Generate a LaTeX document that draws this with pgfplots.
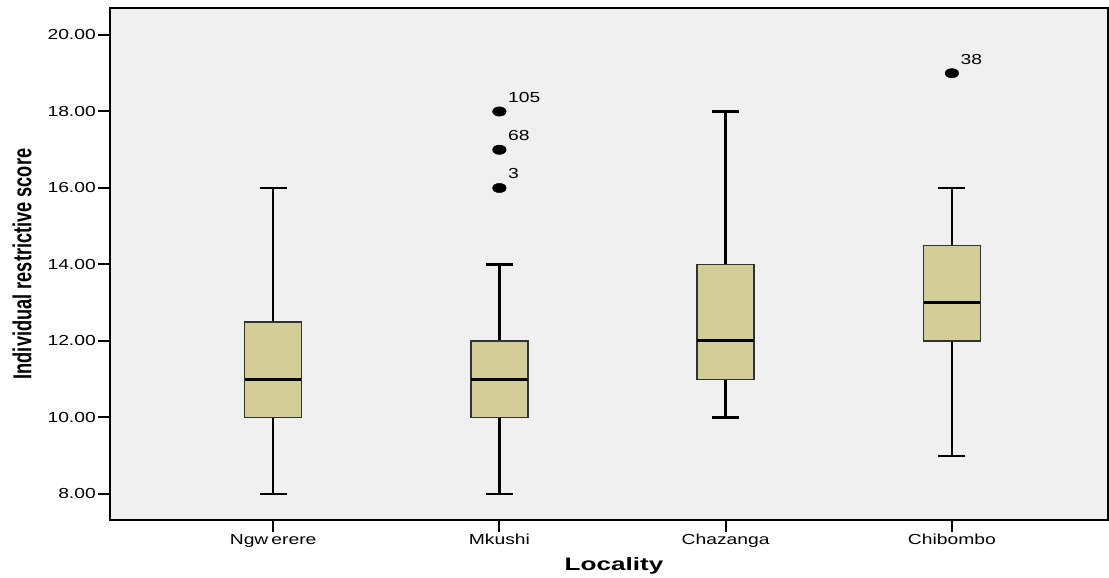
\documentclass[border=0pt]{standalone}
\usepackage{fontspec}
\setmainfont{Liberation Sans}
\newfontfamily\tickfont[FakeStretch=1.33]{Liberation Sans}
\newfontfamily\ylabfont[FakeStretch=0.7]{Liberation Sans}
\newfontfamily\xlabfont[FakeStretch=1.45]{Liberation Sans}
\usepackage{pgfplots}
\usepackage{pgfplotstable}
\pgfplotsset{compat=1.18}
\definecolor{boxfill}{RGB}{211,206,152}
\definecolor{bg}{RGB}{240,240,240}
\definecolor{boxedge}{RGB}{50,50,50}
% x = position, q1, median, q3, lower whisker, upper whisker
\pgfplotstableread{
x q1 med q3 lw uw
1 10 11 12.5 8 16
2 10 11 12 8 14
3 11 12 14 10 18
4 12 13 14.5 9 16
}\boxdata
\pgfplotstableread{
x y label
2 16 3
2 17 68
2 18 105
4 19 38
}\outliers
\begin{document}
\begin{tikzpicture}
\begin{axis}[
  at={(0,0)}, anchor=south west,
  scale only axis, width=998pt, height=512pt,
  xmin=0.279, xmax=4.69, ymin=7.32, ymax=20.706,
  axis background/.style={fill=bg},
  axis line style={line width=1.4pt},
  tick align=outside, xtick pos=bottom, ytick pos=left,
  major tick length=12pt,
  tick style={black, line width=2pt},
  xtick={1,2,3,4},
  xticklabels={Ngw\hspace{3pt}erere, Mkushi, Chazanga, Chibombo},
  ytick={8,10,12,14,16,18,20},
  yticklabel={\pgfmathprintnumber[fixed,fixed zerofill,precision=2,assume math mode=true]{\tick}},
  ticklabel style={font=\tickfont\fontsize{14.5}{16}\selectfont},
  xticklabel style={inner sep=2pt},
  yticklabel style={inner sep=2pt},
  ylabel={Individual restrictive score},
  ylabel style={font=\ylabfont\bfseries\fontsize{26}{30}\selectfont, at={(axis description cs:-0.088,0.5)}, anchor=center},
  xlabel={Locality},
  xlabel style={font=\xlabfont\bfseries\fontsize{18}{20}\selectfont, at={(axis description cs:0.505,-0.0898)}, anchor=center},
]
% lower whiskers
\addplot[draw=none, mark=none, forget plot,
  error bars/.cd, y dir=minus, y explicit, error mark=|,
  error bar style={black, line width=2.6pt},
  error mark options={black, line width=2.2pt, mark size=13.5pt}]
  table[x=x, y=q1, y error minus expr=\thisrow{q1}-\thisrow{lw}] {\boxdata};
% upper whiskers
\addplot[draw=none, mark=none, forget plot,
  error bars/.cd, y dir=plus, y explicit, error mark=|,
  error bar style={black, line width=2.6pt},
  error mark options={black, line width=2.2pt, mark size=13.5pt}]
  table[x=x, y=q3, y error plus expr=\thisrow{uw}-\thisrow{q3}] {\boxdata};
% boxes (Q1 to Q3)
\addplot[fill=boxfill, draw=boxedge, line width=1.3pt] coordinates {(0.874,10) (1.126,10) (1.126,12.5) (0.874,12.5)} -- cycle;
\addplot[fill=boxfill, draw=boxedge, line width=1.3pt] coordinates {(1.874,10) (2.126,10) (2.126,12) (1.874,12)} -- cycle;
\addplot[fill=boxfill, draw=boxedge, line width=1.3pt] coordinates {(2.874,11) (3.126,11) (3.126,14) (2.874,14)} -- cycle;
\addplot[fill=boxfill, draw=boxedge, line width=1.3pt] coordinates {(3.874,12) (4.126,12) (4.126,14.5) (3.874,14.5)} -- cycle;
% medians
\addplot[draw=none, mark=none,
  error bars/.cd, x dir=both, x fixed=0.125, error mark=none,
  error bar style={black, line width=3pt}]
  table[x=x, y=med] {\boxdata};
% outliers
\addplot[only marks, mark=*, mark size=4.7pt, mark options={xscale=1.45, fill=black, draw=black},
  nodes near coords, point meta=explicit symbolic,
  nodes near coords style={anchor=base west, inner sep=0pt, xshift=8.5pt, yshift=9pt, font=\tickfont\fontsize{14.5}{16}\selectfont, black}]
  table[x=x, y=y, meta=label] {\outliers};
\end{axis}
\pgfresetboundingbox
\path[use as bounding box] (-110pt,-58pt) rectangle (999pt,520pt);
\end{tikzpicture}
\end{document}
